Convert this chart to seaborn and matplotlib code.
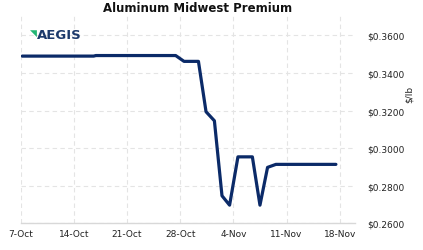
import matplotlib
matplotlib.use("Agg")
import matplotlib.pyplot as plt
import seaborn as sns
import pandas as pd
from matplotlib.ticker import FuncFormatter

# Data: days since 7-Oct, price in $/lb
days = [0.2, 9.6, 9.9, 20.4, 21.5, 23.4, 24.4, 25.5, 26.5, 27.5, 28.6, 30.5, 31.5, 32.5, 33.6, 41.5]
price = [0.3490, 0.3490, 0.3493, 0.3493, 0.3462, 0.3462, 0.3194, 0.3146, 0.2747, 0.2697,
         0.2954, 0.2954, 0.2697, 0.2898, 0.2914, 0.2914]
tick_days = [0, 7, 14, 21, 28, 35, 42]
tick_labels = ["7-Oct", "14-Oct", "21-Oct", "28-Oct", "4-Nov", "11-Nov", "18-Nov"]
y_ticks = [0.26, 0.28, 0.30, 0.32, 0.34, 0.36]

df = pd.DataFrame({"day": days, "price": price})

sns.set_style("white")
plt.rcParams["font.family"] = ["DejaVu Sans"]

fig = plt.figure(figsize=(4.23, 2.51), dpi=100)
ax = fig.add_axes([0.049, 0.106, 0.790, 0.826])

sns.lineplot(data=df, x="day", y="price", ax=ax, color="#0b2a68", linewidth=2.3,
             solid_capstyle="round", solid_joinstyle="round", sort=False)

ax.set_xlim(0, 44)
ax.set_ylim(0.26, 0.3703)
ax.set_xticks(tick_days)
ax.set_xticklabels(tick_labels, fontsize=6.5, color="#222222")
ax.set_yticks(y_ticks)
ax.yaxis.tick_right()
ax.yaxis.set_major_formatter(FuncFormatter(lambda v, p: f"${v:.4f}"))
ax.tick_params(axis="y", labelsize=6.5, colors="#222222", length=0, pad=9)
ax.tick_params(axis="x", length=0, pad=4)
ax.grid(True, color="#e4e4e4", linestyle=(0, (4, 3)), linewidth=0.8)
ax.set_axisbelow(True)
for s in ["left", "top", "right"]:
    ax.spines[s].set_visible(False)
ax.spines["bottom"].set_color("#d8d8d8")
ax.spines["bottom"].set_linewidth(1)
ax.set_xlabel("")
ax.set_ylabel("")

fig.text(0.967, 0.625, "$/lb", rotation=90, fontsize=6.5, color="#222222",
         ha="center", va="center")
fig.text(0.466, 0.965, "Aluminum Midwest Premium", fontsize=8.5, fontweight="bold",
         ha="center", va="center", color="#111111")

# Logo
fig.text(0.070, 0.866, "\u25E5", fontsize=6.5, color="#22b573", ha="left", va="center")
fig.text(0.088, 0.860, "AEGIS", fontsize=9.5, color="#1d3a6b", ha="left", va="center",
         fontweight="semibold")

fig.savefig("out.png", dpi=100)
